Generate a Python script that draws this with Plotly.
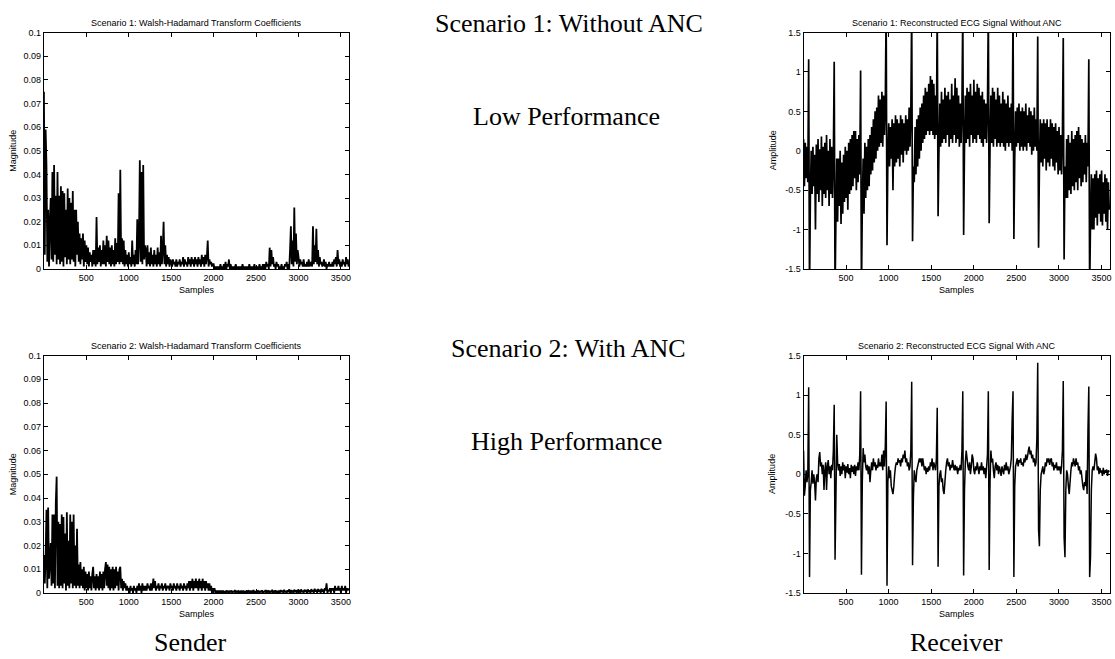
import plotly.graph_objects as go

# Sample positions (every 10th sample of 3600)
samples = list(range(1, 3601, 10))

# Scenario 1: Walsh-Hadamard transform coefficients (magnitude)
wht1 = [
    0.075, 0.006, 0.059, 0.044, 0.003, 0.025, 0.001, 0.020, 0.030, 0.004,
    0.041, 0.003, 0.044, 0.006, 0.031, 0.002, 0.041, 0.004, 0.031, 0.002,
    0.035, 0.003, 0.033, 0.001, 0.032, 0.005, 0.025, 0.002, 0.034, 0.004,
    0.030, 0.002, 0.028, 0.004, 0.033, 0.003, 0.025, 0.001, 0.025, 0.006,
    0.020, 0.003, 0.015, 0.002, 0.013, 0.004, 0.015, 0.001, 0.012, 0.003,
    0.010, 0.002, 0.009, 0.001, 0.007, 0.003, 0.006, 0.001, 0.008, 0.002,
    0.008, 0.001, 0.022, 0.002, 0.009, 0.003, 0.010, 0.001, 0.008, 0.002,
    0.012, 0.002, 0.010, 0.001, 0.014, 0.003, 0.012, 0.002, 0.009, 0.001,
    0.010, 0.002, 0.008, 0.001, 0.013, 0.002, 0.011, 0.003, 0.032, 0.002,
    0.042, 0.003, 0.013, 0.002, 0.012, 0.001, 0.008, 0.002, 0.006, 0.001,
    0.007, 0.002, 0.005, 0.001, 0.012, 0.002, 0.006, 0.001, 0.008, 0.002,
    0.021, 0.002, 0.012, 0.046, 0.003, 0.041, 0.002, 0.044, 0.004, 0.010,
    0.008, 0.001, 0.010, 0.002, 0.007, 0.001, 0.009, 0.002, 0.006, 0.001,
    0.008, 0.002, 0.006, 0.001, 0.009, 0.002, 0.007, 0.001, 0.014, 0.002,
    0.008, 0.020, 0.002, 0.010, 0.001, 0.006, 0.002, 0.005, 0.001, 0.004,
    0.003, 0.001, 0.004, 0.002, 0.003, 0.001, 0.004, 0.001, 0.003, 0.002,
    0.004, 0.001, 0.003, 0.002, 0.005, 0.001, 0.004, 0.002, 0.003, 0.001,
    0.005, 0.002, 0.004, 0.001, 0.005, 0.002, 0.004, 0.001, 0.005, 0.002,
    0.004, 0.001, 0.005, 0.002, 0.004, 0.001, 0.006, 0.002, 0.005, 0.001,
    0.006, 0.002, 0.005, 0.012, 0.001, 0.004, 0.002, 0.003, 0.001, 0.002,
    0.002, 0.000, 0.001, 0.000, 0.001, 0.000, 0.001, 0.000, 0.002, 0.000,
    0.001, 0.000, 0.002, 0.000, 0.003, 0.000, 0.002, 0.001, 0.004, 0.000,
    0.002, 0.000, 0.001, 0.000, 0.001, 0.000, 0.002, 0.000, 0.001, 0.000,
    0.001, 0.000, 0.001, 0.000, 0.002, 0.000, 0.001, 0.000, 0.001, 0.000,
    0.001, 0.000, 0.002, 0.000, 0.001, 0.000, 0.001, 0.000, 0.002, 0.000,
    0.001, 0.000, 0.001, 0.000, 0.002, 0.000, 0.001, 0.000, 0.002, 0.000,
    0.002, 0.000, 0.003, 0.001, 0.002, 0.000, 0.009, 0.001, 0.008, 0.002,
    0.005, 0.001, 0.002, 0.000, 0.003, 0.001, 0.002, 0.000, 0.001, 0.000,
    0.002, 0.000, 0.001, 0.000, 0.002, 0.001, 0.003, 0.000, 0.002, 0.000,
    0.008, 0.018, 0.002, 0.012, 0.001, 0.026, 0.003, 0.015, 0.002, 0.008,
    0.005, 0.001, 0.004, 0.002, 0.003, 0.001, 0.004, 0.001, 0.002, 0.001,
    0.003, 0.001, 0.004, 0.001, 0.002, 0.003, 0.001, 0.018, 0.002, 0.010,
    0.003, 0.017, 0.002, 0.008, 0.001, 0.005, 0.002, 0.003, 0.001, 0.002,
    0.004, 0.001, 0.003, 0.000, 0.002, 0.001, 0.003, 0.001, 0.002, 0.001,
    0.003, 0.001, 0.004, 0.002, 0.005, 0.001, 0.008, 0.002, 0.004, 0.001,
    0.003, 0.001, 0.004, 0.002, 0.003, 0.001, 0.005, 0.002, 0.004, 0.001,
]

# Scenario 2: Walsh-Hadamard transform coefficients (magnitude)
wht2 = [
    0.016, 0.004, 0.015, 0.035, 0.002, 0.036, 0.006, 0.013, 0.021, 0.003,
    0.033, 0.004, 0.033, 0.002, 0.038, 0.049, 0.003, 0.030, 0.002, 0.029,
    0.003, 0.033, 0.002, 0.032, 0.004, 0.025, 0.001, 0.034, 0.003, 0.022,
    0.002, 0.033, 0.004, 0.030, 0.002, 0.033, 0.003, 0.020, 0.002, 0.027,
    0.003, 0.012, 0.002, 0.013, 0.003, 0.010, 0.002, 0.011, 0.001, 0.009,
    0.002, 0.008, 0.001, 0.009, 0.002, 0.007, 0.001, 0.008, 0.011, 0.002,
    0.007, 0.001, 0.008, 0.002, 0.007, 0.001, 0.009, 0.002, 0.008, 0.001,
    0.009, 0.002, 0.010, 0.013, 0.003, 0.012, 0.002, 0.011, 0.001, 0.010,
    0.002, 0.011, 0.001, 0.010, 0.002, 0.011, 0.003, 0.009, 0.001, 0.010,
    0.011, 0.002, 0.006, 0.001, 0.005, 0.002, 0.004, 0.001, 0.003, 0.001,
    0.002, 0.000, 0.003, 0.001, 0.002, 0.000, 0.003, 0.001, 0.002, 0.000,
    0.003, 0.001, 0.004, 0.001, 0.003, 0.000, 0.004, 0.001, 0.003, 0.001,
    0.003, 0.001, 0.004, 0.002, 0.003, 0.001, 0.004, 0.001, 0.003, 0.006,
    0.002, 0.005, 0.001, 0.003, 0.002, 0.004, 0.001, 0.003, 0.002, 0.004,
    0.001, 0.003, 0.002, 0.004, 0.001, 0.003, 0.002, 0.003, 0.001, 0.004,
    0.002, 0.003, 0.001, 0.004, 0.002, 0.003, 0.001, 0.004, 0.002, 0.003,
    0.001, 0.004, 0.002, 0.003, 0.001, 0.004, 0.002, 0.003, 0.001, 0.004,
    0.002, 0.005, 0.001, 0.005, 0.002, 0.006, 0.001, 0.005, 0.002, 0.006,
    0.002, 0.005, 0.001, 0.006, 0.002, 0.005, 0.001, 0.006, 0.002, 0.005,
    0.001, 0.005, 0.002, 0.004, 0.001, 0.004, 0.001, 0.003, 0.000, 0.002,
    0.001, 0.002, 0.000, 0.001, 0.000, 0.001, 0.000, 0.001, 0.000, 0.001,
    0.000, 0.001, 0.000, 0.0008, 0.000, 0.001, 0.0004, 0.0009, 0.000, 0.0007,
    0.0005, 0.001, 0.000, 0.0008, 0.0003, 0.0012, 0.000, 0.0009, 0.0004, 0.0007,
    0.000, 0.0009, 0.0003, 0.0007, 0.000, 0.001, 0.0002, 0.0008, 0.000, 0.0011,
    0.0004, 0.0008, 0.000, 0.001, 0.0003, 0.0007, 0.000, 0.0012, 0.0002, 0.0008,
    0.000, 0.001, 0.0004, 0.0007, 0.000, 0.0009, 0.0003, 0.0011, 0.000, 0.0008,
    0.0003, 0.0012, 0.000, 0.0008, 0.0004, 0.001, 0.000, 0.0009, 0.0003, 0.0013,
    0.000, 0.0009, 0.0004, 0.0011, 0.000, 0.0008, 0.0003, 0.001, 0.000, 0.0012,
    0.0004, 0.001, 0.000, 0.0013, 0.0003, 0.0009, 0.000, 0.0011, 0.0004, 0.0015,
    0.000, 0.0012, 0.0005, 0.001, 0.000, 0.0014, 0.0003, 0.0011, 0.000, 0.0013,
    0.0005, 0.0012, 0.000, 0.0015, 0.0004, 0.001, 0.000, 0.0014, 0.0005, 0.0012,
    0.000, 0.0015, 0.0004, 0.0011, 0.000, 0.0016, 0.0005, 0.0012, 0.000, 0.0018,
    0.0005, 0.0014, 0.000, 0.0017, 0.0006, 0.0013, 0.000, 0.0018, 0.0004, 0.0015,
    0.000, 0.002, 0.001, 0.004, 0.000, 0.001, 0.001, 0.002, 0.000, 0.002,
    0.001, 0.002, 0.000, 0.003, 0.001, 0.002, 0.001, 0.003, 0.001, 0.002,
    0.000, 0.003, 0.001, 0.002, 0.001, 0.003, 0.000, 0.002, 0.001, 0.002,
]

# Scenario 1: reconstructed ECG without ANC (amplitude)
ecg1 = [
    0.15, -0.45, 0.10, -0.35, 0.05, -0.40, 1.16, -1.80, -0.60, 0.00,
    -0.55, 0.05, -0.45, -0.05, -1.00, 0.08, -0.55, 0.15, -0.65, 0.02,
    -0.50, 0.18, -0.70, 0.05, -0.55, 0.10, -0.60, 0.20, -0.50, 0.00,
    -0.70, 0.15, -0.55, 0.05, -0.60, -0.10, 1.13, -1.80, -0.85, -0.10,
    -0.90, -0.10, -0.70, 0.00, -0.93, -0.15, -0.80, -0.05, -0.65, 0.05,
    -0.60, 0.00, -0.75, 0.10, -0.55, 0.15, -0.50, 0.20, -0.45, 0.25,
    -0.35, 0.25, -0.50, 0.15, -0.40, 0.20, -0.30, 1.02, -1.80, -0.70,
    -0.10, -0.80, 0.10, -0.60, 0.05, -0.50, 0.15, -0.45, 0.20, -0.30,
    0.30, -0.25, 0.40, -0.15, 0.50, -0.10, 0.55, 0.00, 0.70, 0.05,
    0.65, 0.10, 0.75, 0.05, 0.70, 0.20, 0.60, 1.80, -1.20, -0.10,
    0.35, -0.20, 0.30, -0.10, 0.40, -0.50, 0.35, -0.20, 0.45, -0.15,
    0.40, -0.10, 0.35, -0.20, 0.45, -0.05, 0.40, -0.15, 0.35, 0.00,
    0.45, -0.05, 0.40, 0.00, 0.55, 0.05, 0.50, 1.80, -1.15, -0.20,
    -0.40, 0.30, -0.30, 0.40, -0.20, 0.45, -0.10, 0.55, 0.00, 0.60,
    0.10, 0.70, 0.15, 0.80, 0.20, 0.75, 0.25, 0.85, 0.20, 0.95,
    0.25, 0.90, 0.20, 0.85, 0.15, 0.70, 0.20, 1.80, -0.83, 0.00,
    0.60, 0.05, 0.75, 0.10, 0.65, 0.15, 0.80, 0.10, 0.70, 0.20,
    0.75, 0.05, 0.65, 0.15, 0.85, 0.10, 0.70, 0.20, 0.92, 0.10,
    0.80, 0.15, 0.70, 0.05, 0.60, 0.10, 0.55, 1.80, -1.07, 0.05,
    0.70, 0.10, 0.80, 0.15, 0.75, 0.05, 0.85, 0.20, 0.70, 0.10,
    0.90, 0.15, 0.75, 0.10, 0.85, 0.20, 0.80, 0.15, 0.70, 0.10,
    0.75, 0.05, 0.65, 0.15, 0.60, 0.10, 0.55, 1.80, -0.92, 0.05,
    0.70, 0.10, 0.80, 0.05, 0.75, 0.15, 0.65, 0.05, 0.80, 0.10,
    0.70, 0.05, 0.60, 0.10, 0.75, 0.05, 0.65, 0.00, 0.60, 0.10,
    0.70, 0.05, 0.55, 0.10, 0.60, 0.00, 1.80, -1.12, -0.10, 0.50,
    0.05, 0.55, 0.10, 0.60, 0.00, 0.50, 0.05, 0.55, 0.00, 0.50,
    0.05, 0.60, 0.00, 0.45, 0.10, 0.55, 0.05, 0.50, -0.05, 0.45,
    0.00, 0.55, 0.05, 0.40, 0.00, 1.45, -1.23, -0.20, 0.40, -0.15,
    0.35, -0.20, 0.40, -0.10, 0.35, -0.25, 0.40, -0.15, 0.30, -0.20,
    0.40, -0.10, 0.35, -0.20, 0.30, -0.25, 0.35, -0.15, 0.25, -0.30,
    0.30, -0.25, 0.20, -0.30, 0.15, 1.43, -1.38, -0.20, -0.60, 0.15,
    -0.60, 0.20, -0.50, 0.10, -0.55, 0.25, -0.45, 0.15, -0.50, 0.20,
    -0.40, 0.25, -0.50, 0.30, -0.35, 0.20, -0.45, 0.15, -0.40, 0.10,
    -0.30, 0.20, -0.40, 0.10, -0.20, 1.16, -1.80, -0.90, -0.30, -1.00,
    -0.35, -1.00, -0.30, -0.85, -0.25, -0.95, -0.35, -0.80, -0.30, -0.90,
    -0.25, -0.95, -0.40, -0.80, -0.30, -0.90, -0.35, -1.00, -0.40, -0.75,
]

# Scenario 2: reconstructed ECG with ANC (amplitude)
ecg2 = [
    0.30, -0.27, -0.15, 0.05, -0.10, 0.00, 1.10, -1.30, -0.20, -0.10,
    0.05, -0.12, 0.00, -0.10, -0.33, -0.05, 0.00, -0.10, 0.20, 0.28,
    0.10, 0.15, 0.00, 0.12, -0.20, 0.05, 0.15, -0.20, 0.10, 0.18,
    0.00, 0.10, -0.05, 0.12, 0.05, 0.30, 0.88, -1.08, -0.30, 0.50,
    0.15, 0.05, 0.13, -0.02, 0.10, 0.00, 0.15, 0.05, 0.12, -0.05,
    0.10, 0.02, 0.13, 0.00, 0.08, -0.05, 0.12, 0.03, 0.10, 0.00,
    0.12, -0.02, 0.10, 0.05, 0.15, 0.05, 0.25, 1.05, -1.27, -0.10,
    0.33, 0.15, 0.25, 0.10, 0.05, 0.12, 0.00, 0.10, -0.10, 0.05,
    0.15, 0.05, 0.20, 0.10, 0.15, 0.05, 0.12, 0.08, 0.20, 0.10,
    0.15, 0.10, 0.25, 0.05, 0.30, 0.10, 0.35, 0.92, -1.41, -0.10,
    0.10, -0.05, 0.05, -0.15, -0.20, -0.25, -0.15, 0.00, 0.10, 0.15,
    0.12, 0.20, 0.15, 0.18, 0.10, 0.20, 0.15, 0.25, 0.20, 0.30,
    0.15, 0.20, 0.10, 0.15, 0.05, 0.10, 0.30, 1.17, -1.15, -0.30,
    0.05, -0.05, -0.10, 0.05, 0.10, 0.15, 0.20, 0.15, 0.20, 0.10,
    0.20, 0.12, 0.05, 0.10, 0.00, 0.08, 0.03, 0.10, 0.05, 0.15,
    0.10, 0.20, 0.05, 0.15, 0.10, 0.05, 0.20, 0.84, -1.17, -0.15,
    0.00, 0.05, -0.10, -0.05, -0.20, -0.25, -0.10, 0.05, 0.15, 0.20,
    0.10, 0.15, 0.05, 0.12, 0.08, 0.18, 0.10, 0.05, 0.12, 0.05,
    0.10, 0.00, 0.08, 0.05, 0.12, 0.05, 0.30, 1.05, -1.28, -0.20,
    0.15, 0.30, 0.20, 0.10, 0.05, 0.15, 0.00, 0.10, 0.25, 0.20,
    0.05, 0.00, 0.10, 0.05, 0.15, 0.08, 0.00, 0.10, 0.05, 0.15,
    0.05, 0.10, 0.00, 0.08, -0.05, 0.10, 0.25, 1.05, -1.21, -0.10,
    0.30, 0.15, 0.20, 0.05, -0.05, 0.10, 0.15, 0.05, 0.12, 0.00,
    0.10, 0.05, -0.02, 0.10, 0.05, 0.00, 0.12, 0.05, 0.15, 0.05,
    0.10, 0.00, 0.05, 0.10, 0.20, 0.70, 1.05, -1.30, -0.15, 0.10,
    0.15, 0.20, 0.10, 0.18, 0.15, 0.20, 0.12, 0.15, 0.10, 0.20,
    0.15, 0.25, 0.18, 0.22, 0.30, 0.35, 0.25, 0.30, 0.20, 0.25,
    0.15, 0.20, 0.10, 0.15, 0.45, 1.41, -0.70, -0.91, -0.20, 0.00,
    0.05, 0.10, 0.00, 0.05, 0.15, 0.10, 0.20, 0.15, 0.20, 0.12,
    0.18, 0.20, 0.10, 0.15, 0.05, 0.12, 0.08, 0.15, 0.05, 0.10,
    0.05, 0.10, 0.00, 0.10, 0.30, 1.18, -0.80, -1.05, -0.20, 0.05,
    0.00, -0.15, -0.25, -0.10, 0.05, 0.15, 0.10, 0.20, 0.15, 0.10,
    0.20, 0.12, 0.15, 0.05, 0.10, 0.00, 0.05, -0.05, -0.15, -0.20,
    -0.10, -0.15, 0.05, -0.25, 0.55, 1.11, -1.30, -1.05, -0.20, 0.05,
    0.10, 0.05, 0.15, 0.26, 0.20, 0.05, 0.10, 0.00, 0.08, 0.02,
    0.05, -0.02, 0.08, 0.00, 0.05, 0.02, 0.06, -0.02, 0.05, 0.03,
]

for name, arr in [("wht1", wht1), ("wht2", wht2), ("ecg1", ecg1), ("ecg2", ecg2)]:
    assert len(arr) == len(samples), (name, len(arr))

# Tick values / labels
x_ticks = [500, 1000, 1500, 2000, 2500, 3000, 3500]
wht_yticks = [0, 0.01, 0.02, 0.03, 0.04, 0.05, 0.06, 0.07, 0.08, 0.09, 0.1]
wht_ylabels = ["0", "0.01", "0.02", "0.03", "0.04", "0.05", "0.06", "0.07", "0.08", "0.09", "0.1"]
ecg_yticks = [-1.5, -1, -0.5, 0, 0.5, 1, 1.5]
ecg_ylabels = ["-1.5", "-1", "-0.5", "0", "0.5", "1", "1.5"]

titles = [
    "Scenario 1: Walsh-Hadamard Transform Coefficients",
    "Scenario 1: Reconstructed ECG Signal Without ANC",
    "Scenario 2: Walsh-Hadamard Transform Coefficients",
    "Scenario 2: Reconstructed ECG Signal With ANC",
]

W, H = 1115, 659
SANS = "Liberation Sans, Arial, sans-serif"
SERIF = "Liberation Serif, Times New Roman, serif"


def px_x(p):
    return p / W


def px_y(p):
    return 1 - p / H


# plot boxes in pixels: (left, right, top, bottom)
boxes = [
    (44, 350, 28, 268),
    (805, 1112, 28, 268),
    (44, 350, 356, 597),
    (805, 1112, 356, 597),
]

fig = go.Figure()
series = [wht1, ecg1, wht2, ecg2]
widths = [1.8, 1.7, 1.8, 1.5]
for i, ys in enumerate(series):
    suffix = "" if i == 0 else str(i + 1)
    fig.add_trace(go.Scatter(
        x=samples, y=ys, mode="lines",
        line=dict(color="black", width=widths[i], simplify=False),
        xaxis="x" + suffix, yaxis="y" + suffix,
        showlegend=False, hoverinfo="skip",
    ))

layout = dict(
    width=W, height=H,
    margin=dict(l=0, r=0, t=0, b=0),
    paper_bgcolor="white", plot_bgcolor="white",
    showlegend=False,
    font=dict(family=SANS, size=9, color="black"),
)

annotations = []
for i, (l, r, t, b) in enumerate(boxes):
    suffix = "" if i == 0 else str(i + 1)
    is_wht = i in (0, 2)
    layout["xaxis" + suffix] = dict(
        domain=[px_x(l), px_x(r)], anchor="y" + suffix,
        range=[1, 3600], tickvals=x_ticks,
        ticks="inside", ticklen=4, tickwidth=1, tickcolor="black",
        showline=True, linewidth=1, linecolor="black", mirror="ticks",
        showgrid=False, zeroline=False,
        tickfont=dict(family=SANS, size=9, color="black"),
    )
    layout["yaxis" + suffix] = dict(
        domain=[px_y(b), px_y(t)], anchor="x" + suffix,
        range=[0, 0.1] if is_wht else [-1.5, 1.5],
        tickvals=wht_yticks if is_wht else ecg_yticks,
        ticktext=wht_ylabels if is_wht else ecg_ylabels,
        ticks="inside", ticklen=4, tickwidth=1, tickcolor="black",
        showline=True, linewidth=1, linecolor="black", mirror="ticks",
        showgrid=False, zeroline=False,
        tickfont=dict(family=SANS, size=9, color="black"),
    )
    cx = (l + r) / 2
    annotations.append(dict(
        text=titles[i], x=px_x(cx), y=px_y(t - 10), xref="paper", yref="paper",
        xanchor="center", yanchor="middle", showarrow=False,
        font=dict(family=SANS, size=9, color="black"),
    ))
    annotations.append(dict(
        text="Samples", x=px_x(cx), y=px_y(b + 21), xref="paper", yref="paper",
        xanchor="center", yanchor="middle", showarrow=False,
        font=dict(family=SANS, size=9, color="black"),
    ))
    annotations.append(dict(
        text="Magnitude" if is_wht else "Amplitude",
        x=px_x(l - 31), y=px_y((t + b) / 2), xref="paper", yref="paper",
        xanchor="center", yanchor="middle", showarrow=False, textangle=-90,
        font=dict(family=SANS, size=9, color="black"),
    ))

big_texts = [
    ("Scenario 1: Without ANC", 570, 19),
    ("Low Performance", 568, 113),
    ("Scenario 2: With ANC", 570, 349),
    ("High Performance", 568, 443),
    ("Sender", 191, 647),
    ("Receiver", 958, 647),
]
for txt, x, y in big_texts:
    annotations.append(dict(
        text=txt, x=px_x(x), y=px_y(y), xref="paper", yref="paper",
        xanchor="center", yanchor="middle", showarrow=False,
        font=dict(family=SERIF, size=26, color="black"),
    ))

layout["annotations"] = annotations
fig.update_layout(**layout)
fig.write_html("out.html")
